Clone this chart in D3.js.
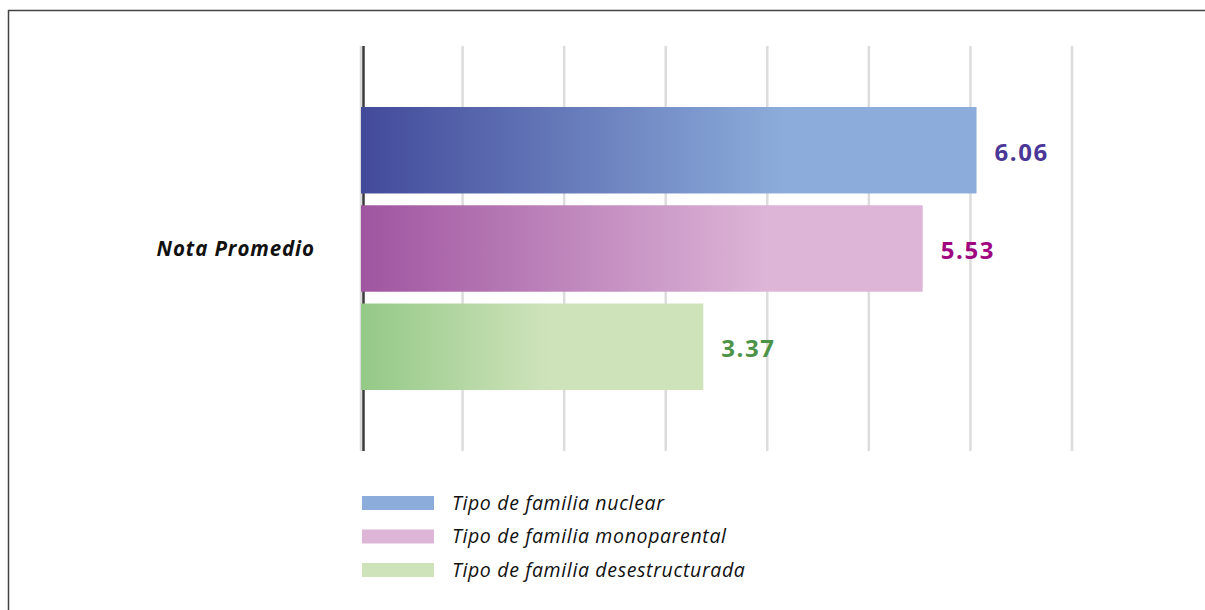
<!DOCTYPE html>
<html><head><meta charset="utf-8">
<script src="https://cdn.jsdelivr.net/npm/d3@7"></script>
<style>
html,body{margin:0;padding:0;background:#fff;}
svg{display:block;}
</style></head>
<body>
<svg id="chart" width="1205" height="610"></svg>
<script>
const categories = ["Nota Promedio"];
const series = ["Tipo de familia nuclear", "Tipo de familia monoparental", "Tipo de familia desestructurada"];
const values = [6.06, 5.53, 3.37];
const valueLabels = ["6.06", "5.53", "3.37"];
const xTicks = [0, 1, 2, 3, 4, 5, 6, 7];

const barColorsStart = ["#424a9a", "#9f55a0", "#94c987"];
const barColorsEnd = ["#8caddb", "#ddb5d7", "#cfe3bb"];
const gradEndOffset = ["69%", "72%", "55%"];
const labelColors = ["#4b3796", "#a0067f", "#4c9348"];

const svg = d3.select("#chart");
const defs = svg.append("defs");

// frame (top + left only)
svg.append("line").attr("x1", 8).attr("x2", 1205).attr("y1", 10.5).attr("y2", 10.5)
  .attr("stroke", "#444").attr("stroke-width", 1.5);
svg.append("line").attr("x1", 8.5).attr("x2", 8.5).attr("y1", 10).attr("y2", 610)
  .attr("stroke", "#444").attr("stroke-width", 1.5);

const x = d3.scaleLinear().domain([0, 7]).range([361, 1072]);
const y0 = d3.scaleBand().domain(categories).range([46, 451]);
const y1 = d3.scaleBand().domain(series).range([61, 344]).paddingInner(0.12);

// grid
svg.append("g").selectAll("line").data(xTicks).join("line")
  .attr("x1", d => x(d)).attr("x2", d => x(d))
  .attr("y1", 46).attr("y2", 451)
  .attr("stroke", "#dcdcdc").attr("stroke-width", 2.5);

// gradients
series.forEach((s, i) => {
  const g = defs.append("linearGradient").attr("id", "g" + i)
    .attr("x1", "0%").attr("x2", "100%").attr("y1", "0%").attr("y2", "0%");
  g.append("stop").attr("offset", "0%").attr("stop-color", barColorsStart[i]);
  g.append("stop").attr("offset", gradEndOffset[i]).attr("stop-color", barColorsEnd[i]);
  g.append("stop").attr("offset", "100%").attr("stop-color", barColorsEnd[i]);
});

// axis line
svg.append("line").attr("x1", x(0) + 2.5).attr("x2", x(0) + 2.5).attr("y1", 46).attr("y2", 451)
  .attr("stroke", "#3c3c3c").attr("stroke-width", 2.5);

const cat = categories[0];
const gBars = svg.append("g").attr("transform", `translate(0,${y0(cat)})`);
gBars.selectAll("rect").data(values).join("rect")
  .attr("x", x(0))
  .attr("y", (d, i) => y1(series[i]))
  .attr("width", d => x(d) - x(0))
  .attr("height", y1.bandwidth())
  .attr("fill", (d, i) => `url(#g${i})`);

gBars.selectAll("text.val").data(values).join("text").attr("class", "val")
  .attr("x", d => x(d) + 18)
  .attr("y", (d, i) => y1(series[i]) + y1.bandwidth() / 2 + 2)
  .attr("dy", "0.36em")
  .attr("fill", (d, i) => labelColors[i])
  .style("font-family", "'Open Sans', sans-serif")
  .style("font-weight", 700)
  .style("font-size", "24px")
  .style("letter-spacing", "1.6px")
  .text((d, i) => valueLabels[i]);

// category label
svg.append("text")
  .attr("x", 315).attr("y", y0(cat) + y0.bandwidth() / 2)
  .attr("dy", "0.35em").attr("text-anchor", "end")
  .style("font-family", "'Open Sans', sans-serif").style("font-weight", 700)
  .style("font-style", "italic").style("font-size", "20.5px")
  .style("letter-spacing", "0.9px").attr("fill", "#111")
  .text(cat);

// legend
const leg = svg.append("g");
series.forEach((s, i) => {
  const yy = 503 + i * 33.5;
  leg.append("rect").attr("x", 362).attr("y", yy - 7).attr("width", 72).attr("height", 14)
    .attr("fill", barColorsEnd[i]);
  leg.append("text").attr("x", 452).attr("y", yy).attr("dy", "0.35em")
    .style("font-family", "'Open Sans', sans-serif").style("font-style", "italic")
    .style("font-size", "19.5px").style("letter-spacing", "0.65px")
    .attr("fill", "#111").text(s);
});
</script>
</body></html>
